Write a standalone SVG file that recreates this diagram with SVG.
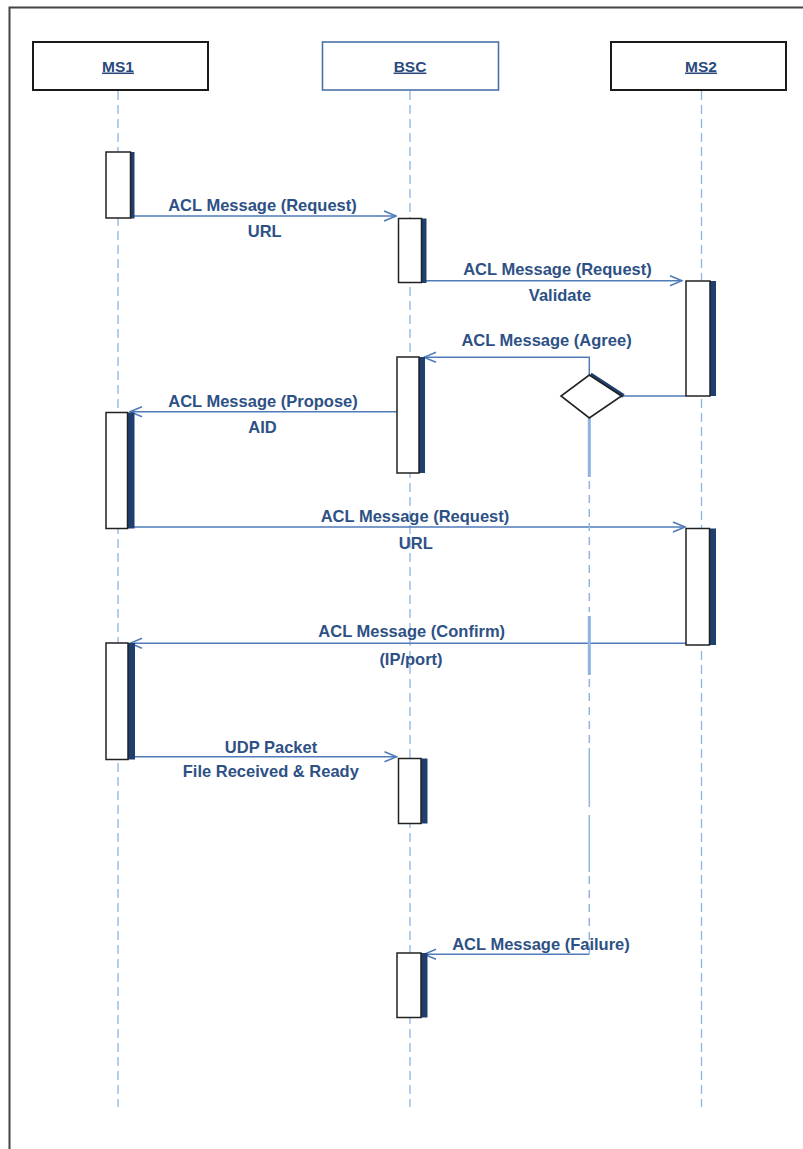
<svg xmlns="http://www.w3.org/2000/svg" width="803" height="1149" viewBox="0 0 803 1149">
<defs>
<style>
.frame{fill:none;stroke:#444;stroke-width:2}
.hdr{fill:#fff;stroke:#1a1a1a;stroke-width:2}
.hdrb{fill:#fff;stroke:#4a72a8;stroke-width:1.6}
.hl{font-family:"Liberation Sans",Arial,sans-serif;font-weight:bold;font-size:15.5px;fill:#2a4a7c;text-anchor:middle;text-decoration:underline}
.life{stroke:#8fb4e3;stroke-width:1.3;stroke-dasharray:9 5;fill:none}
.act{fill:#fff;stroke:#222;stroke-width:1.5}
.bar{fill:#1f3f6f}
.msg{stroke:#4f7bb8;stroke-width:1.5;fill:none}
.lbl{font-family:"Liberation Sans",Arial,sans-serif;font-weight:bold;font-size:16.5px;fill:#2e5185;text-anchor:middle}
.guard{stroke:#8fb4e3;fill:none}
</style>
<marker id="arr" viewBox="0 0 14 12" refX="13" refY="6" markerWidth="14" markerHeight="12" markerUnits="userSpaceOnUse" orient="auto">
<path d="M1,1 L13,6 L1,11" fill="none" stroke="#4f7bb8" stroke-width="1.5"/>
</marker>
</defs>
<rect width="803" height="1149" fill="#fff"/>
<path class="frame" d="M9.5,1149 V7.5 H803"/>

<g id="lifelines">
<line class="life" x1="118" y1="91" x2="118" y2="1107"/>
<line class="life" x1="410" y1="91" x2="410" y2="1107"/>
<line class="life" x1="701.5" y1="91" x2="701.5" y2="1107"/>
</g>

<g id="MS1">
<rect class="hdr" x="33" y="42" width="175" height="48"/>
<text class="hl" x="118" y="71.5">MS1</text>
</g>
<g id="BSC">
<rect class="hdrb" x="322.5" y="42" width="176" height="48"/>
<text class="hl" x="410" y="71.5">BSC</text>
</g>
<g id="MS2">
<rect class="hdr" x="611" y="42" width="175" height="48"/>
<text class="hl" x="701" y="71.5">MS2</text>
</g>

<g id="connectors">
<line class="msg" x1="131" y1="216" x2="396" y2="216" marker-end="url(#arr)"/>
<line class="msg" x1="423" y1="280.7" x2="682" y2="280.7" marker-end="url(#arr)"/>
<polyline class="msg" points="686,396 622,396"/>
<polyline class="msg" points="589.3,375 589.3,357.3 424,357.3" marker-end="url(#arr)"/>
<line class="msg" x1="397" y1="411.7" x2="130" y2="411.7" marker-end="url(#arr)"/>
<line class="msg" x1="133" y1="527" x2="685" y2="527" marker-end="url(#arr)"/>
<line class="msg" x1="686" y1="643.3" x2="130" y2="643.3" marker-end="url(#arr)"/>
<line class="msg" x1="133" y1="756.7" x2="396.5" y2="756.7" marker-end="url(#arr)"/>
<polyline class="msg" points="589.3,954.3 424,954.3" marker-end="url(#arr)"/>
<g id="guard">
<line class="guard" stroke-width="3" x1="589.3" y1="418" x2="589.3" y2="477"/>
<line class="guard" stroke-width="1.5" stroke-dasharray="8 6" x1="589.3" y1="481" x2="589.3" y2="612"/>
<line class="guard" stroke-width="3" x1="589.3" y1="616" x2="589.3" y2="675"/>
<line class="guard" stroke-width="1.5" stroke-dasharray="8 6" x1="589.3" y1="679" x2="589.3" y2="745"/>
<line class="guard" stroke-width="1.5" x1="589.3" y1="748" x2="589.3" y2="807"/>
<line class="guard" stroke-width="1.5" x1="589.3" y1="815" x2="589.3" y2="872"/>
<line class="guard" stroke-width="1.5" stroke-dasharray="8 6" x1="589.3" y1="876" x2="589.3" y2="957"/>
</g>
</g>

<g id="act-ms1-1"><rect class="bar" x="130" y="152" width="4.5" height="66.5"/><rect class="act" x="106" y="152" width="24.5" height="66"/></g>
<g id="act-bsc-1"><rect class="bar" x="421.5" y="218.5" width="5" height="64.5"/><rect class="act" x="398.5" y="218.5" width="23" height="64"/></g>
<g id="act-ms2-1"><rect class="bar" x="710" y="281" width="6" height="115"/><rect class="act" x="686" y="281" width="24" height="115"/></g>
<g id="act-bsc-2"><rect class="bar" x="419" y="357" width="6" height="116"/><rect class="act" x="397" y="357" width="22" height="116"/></g>
<g id="act-ms1-2"><rect class="bar" x="127.5" y="412.5" width="7" height="116"/><rect class="act" x="106" y="412.5" width="21.5" height="116"/></g>
<g id="act-ms2-2"><rect class="bar" x="709.5" y="528.5" width="6.5" height="116.5"/><rect class="act" x="686" y="528.5" width="23.5" height="116.5"/></g>
<g id="act-ms1-3"><rect class="bar" x="128" y="643" width="7" height="116.5"/><rect class="act" x="106" y="643" width="22" height="116.5"/></g>
<g id="act-bsc-3"><rect class="bar" x="421" y="758.5" width="6.5" height="65"/><rect class="act" x="398.5" y="758.5" width="22.5" height="65"/></g>
<g id="act-bsc-4"><rect class="bar" x="421" y="953" width="6.5" height="64.5"/><rect class="act" x="397" y="953" width="24" height="64.5"/></g>

<g id="decision">
<polyline points="590.5,374.5 623.5,396" fill="none" stroke="#1f3f6f" stroke-width="4"/>
<polygon points="589.3,375 621.5,396 589.3,418 561,396" fill="#fff" stroke="#222" stroke-width="1.6"/>
</g>

<g id="labels">
<text class="lbl" x="262.5" y="210.5">ACL Message (Request)</text>
<text class="lbl" x="264.7" y="236.5">URL</text>
<text class="lbl" x="557.5" y="275">ACL Message (Request)</text>
<text class="lbl" x="560" y="300.5">Validate</text>
<text class="lbl" x="546.5" y="345.5">ACL Message (Agree)</text>
<text class="lbl" x="263" y="406.5">ACL Message (Propose)</text>
<text class="lbl" x="262.5" y="432.5">AID</text>
<text class="lbl" x="415" y="521.5">ACL Message (Request)</text>
<text class="lbl" x="415.8" y="549">URL</text>
<text class="lbl" x="411.7" y="636.5">ACL Message (Confirm)</text>
<text class="lbl" x="411" y="665">(IP/port)</text>
<text class="lbl" x="271" y="753">UDP Packet</text>
<text class="lbl" x="270.8" y="777">File Received &amp; Ready</text>
<text class="lbl" x="541" y="950">ACL Message (Failure)</text>
</g>
</svg>
